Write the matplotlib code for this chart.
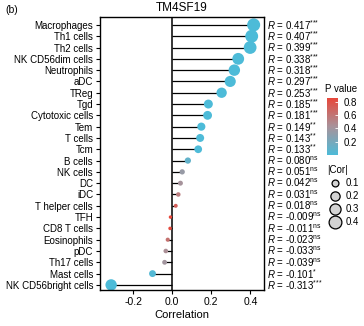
import numpy as np
import matplotlib
matplotlib.use("Agg")
import matplotlib.pyplot as plt
from matplotlib.colors import LinearSegmentedColormap, Normalize
from matplotlib.cm import ScalarMappable

plt.rcParams['font.family'] = ['Liberation Sans', 'DejaVu Sans']
plt.rcParams['mathtext.fontset'] = 'custom'
plt.rcParams['mathtext.rm'] = 'Liberation Sans'
plt.rcParams['mathtext.it'] = 'Liberation Sans:italic'

# immune cell correlation with TM4SF19
cells = ["Macrophages", "Th1 cells", "Th2 cells", "NK CD56dim cells", "Neutrophils",
         "aDC", "TReg", "Tgd", "Cytotoxic cells", "Tem", "T cells", "Tcm", "B cells",
         "NK cells", "DC", "iDC", "T helper cells", "TFH", "CD8 T cells", "Eosinophils",
         "pDC", "Th17 cells", "Mast cells", "NK CD56bright cells"]
cor = [0.417, 0.407, 0.399, 0.338, 0.318, 0.297, 0.253, 0.185, 0.181, 0.149, 0.143,
       0.133, 0.080, 0.051, 0.042, 0.031, 0.018, -0.009, -0.011, -0.023, -0.033,
       -0.039, -0.101, -0.313]
pval = [0.0, 0.0, 0.0, 0.0, 0.0, 0.0, 0.0, 0.0, 0.0, 0.003, 0.004, 0.006, 0.10,
        0.35, 0.42, 0.55, 0.72, 0.86, 0.84, 0.62, 0.45, 0.40, 0.03, 0.0]
sig = ["***", "***", "***", "***", "***", "***", "***", "***", "***", "**", "**", "**",
       "ns", "ns", "ns", "ns", "ns", "ns", "ns", "ns", "ns", "ns", "*", "***"]
size_levels = [0.1, 0.2, 0.3, 0.4]

cmap = LinearSegmentedColormap.from_list("pv", ["#4DBBD8", "#A8929A", "#E8473A"])
norm = Normalize(vmin=0, vmax=0.86)
FS = 7


def dot_size(r):
    # marker area in pt^2, diameter in px ~ sqrt(8.5 + 387*|r|)
    return 0.5184 * (8.5 + 387 * np.abs(np.asarray(r)))


fig = plt.figure(figsize=(3.64, 3.26), dpi=100)
ax = fig.add_axes([100 / 364, 36 / 326, 164 / 364, 273 / 326])

y = np.arange(len(cells))[::-1]
ax.hlines(y, 0, cor, color="black", lw=0.9, zorder=1)
ax.axvline(0, color="black", lw=1.1, zorder=1)
ax.scatter(cor, y, s=dot_size(cor), c=pval, cmap=cmap, norm=norm,
           edgecolors="none", zorder=2)

ax.set_xlim(-0.37, 0.47)
ax.set_ylim(-0.45, len(cells) - 0.3)
ax.set_xticks([-0.2, 0.0, 0.2, 0.4])
ax.set_xticklabels(["-0.2", "0.0", "0.2", "0.4"])
ax.set_yticks(y)
ax.set_yticklabels(cells)
ax.tick_params(labelsize=FS, length=3, width=0.8, colors="black", pad=2)
ax.tick_params(axis="x", labelsize=7.5)
for sp in ax.spines.values():
    sp.set_linewidth(1.0)
ax.set_xlabel("Correlation", fontsize=8, labelpad=2)
ax.set_title("TM4SF19", fontsize=8.5, pad=4)
fig.text(5 / 364, 1 - 10 / 326, "(b)", fontsize=7.5, va="center")

# R labels on the right of the panel
for yi, r, s in zip(y, cor, sig):
    if s == "ns":
        sup = r"$^{\mathrm{ns}}$"
    else:
        sup = "$^{" + "".join("{*}" for _ in s) + "}$"
    ax.text(1.02, yi, r"$\mathit{R}$ = " + f"{r:.3f}" + sup,
            transform=ax.get_yaxis_transform(),
            fontsize=FS, va="center", ha="left", clip_on=False)

# P value colour bar
cax = fig.add_axes([327 / 364, 1 - 155 / 326, 11 / 364, 57 / 326])
cb = fig.colorbar(ScalarMappable(norm=norm, cmap=cmap), cax=cax)
cb.set_ticks([0.2, 0.4, 0.6, 0.8])
cb.outline.set_visible(False)
cax.tick_params(labelsize=FS, length=2, width=0.6, color="white", direction="in", pad=4)
fig.text(325 / 364, 1 - 89 / 326, "P value", fontsize=FS, va="center")

# |Cor| size legend
handles = [ax.scatter([], [], s=dot_size(v), facecolor="#D3D3D3", edgecolor="black", lw=0.9)
           for v in size_levels]
leg = fig.legend(handles, [str(v) for v in size_levels], title="|Cor|", loc="upper left",
                 bbox_to_anchor=(322 / 364, 1 - 160 / 326), frameon=False, fontsize=FS,
                 title_fontsize=FS, handletextpad=0.3, labelspacing=0.3, borderpad=0,
                 handlelength=1.6)
leg._legend_box.align = "left"

fig.savefig("out.png", dpi=100)
